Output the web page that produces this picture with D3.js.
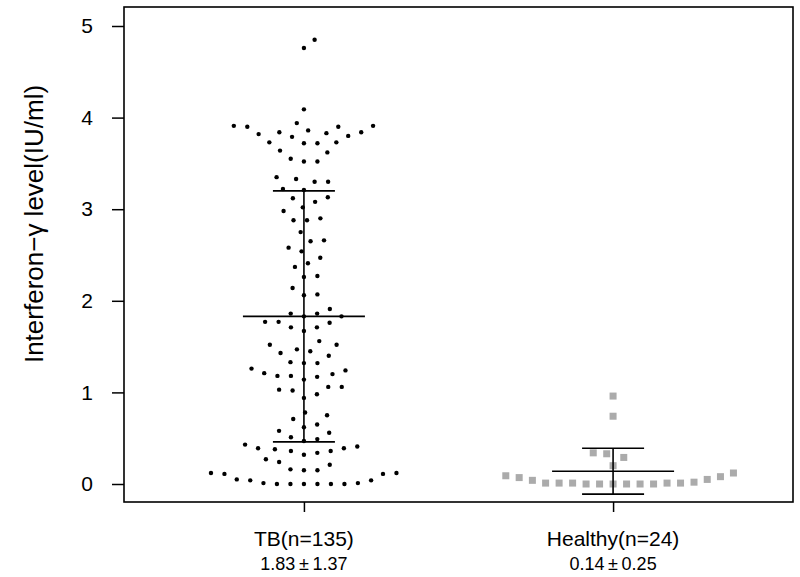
<!DOCTYPE html>
<html>
<head>
<meta charset="utf-8">
<script src="https://cdn.jsdelivr.net/npm/d3@7/dist/d3.min.js"></script>
<style>
  html, body { margin: 0; padding: 0; background: #fff; }
  svg { display: block; }
  text { font-family: "Liberation Sans", Arial, sans-serif; fill: #000; }
</style>
</head>
<body>
<svg id="chart" width="800" height="577"></svg>
<script>
// ---------------- data ----------------
const categories = ["TB(n=135)", "Healthy(n=24)"];
const summaryLabels = ["1.83\u2009\u00B1\u20091.37", "0.14\u2009\u00B1\u20090.25"];
const means = [1.83, 0.14];
const sds = [1.37, 0.25];
const yTicks = [0, 1, 2, 3, 4, 5];
const yTitle = "Interferon\u2212\u03B3 level(IU/ml)";

const tbValues = [
  4.85, 4.76, 4.09,
  3.94, 3.91, 3.91, 3.90, 3.90, 3.86, 3.84, 3.84, 3.83, 3.82, 3.80, 3.79, 3.73, 3.73, 3.72, 3.72,
  3.64, 3.62, 3.55, 3.52, 3.52,
  3.35, 3.33, 3.30, 3.30,
  3.22, 3.21, 3.13, 3.12, 3.08, 3.02, 2.98,
  2.90, 2.88, 2.88, 2.75, 2.66, 2.65, 2.58, 2.54, 2.47, 2.41, 2.37, 2.27, 2.26, 2.14, 2.07, 2.06, 1.91,
  1.86, 1.86, 1.83, 1.83, 1.77, 1.77, 1.76, 1.71, 1.71, 1.67,
  1.56, 1.52, 1.52, 1.47, 1.45, 1.43, 1.40, 1.33, 1.32, 1.32,
  1.26, 1.24, 1.21, 1.20, 1.18, 1.18, 1.17, 1.14,
  1.06, 1.06, 1.03, 1.02, 0.98, 0.94,
  0.78, 0.75, 0.71, 0.65, 0.62, 0.58, 0.56, 0.51, 0.49, 0.47, 0.43,
  0.41, 0.39, 0.39, 0.38, 0.36, 0.36, 0.34, 0.32, 0.27, 0.24, 0.21,
  0.16, 0.15, 0.15, 0.12, 0.12, 0.11, 0.11, 0.05, 0.04, 0.04,
  0.01, 0.01, 0.00, 0.00, 0.00, 0.00, 0.00, 0.00
];
const healthyValues = [
  0.96, 0.74, 0.34, 0.33, 0.29, 0.20,
  0.12, 0.09, 0.08, 0.07, 0.05, 0.04, 0.02,
  0.01, 0.01, 0.01, 0.01, 0.01, 0.00, 0.00, 0.00, 0.00, 0.00, 0.00
];

// ---------------- layout ----------------
const svg = d3.select("#chart");
const plot = { left: 124, right: 793, top: 7, bottom: 502 };

const x = d3.scalePoint().domain(categories).range([plot.left, plot.right]).padding(0.582);
const y = d3.scaleLinear().domain([0, 5]).range([484, 26]);

// deterministic beeswarm: offsets computed from values only
function swarm(values, D) {
  const pts = values.map(v => ({ v, y: y(v), dx: 0 }))
    .sort((a, b) => b.y - a.y);
  const placed = [];
  for (const p of pts) {
    const cands = [0];
    for (const q of placed) {
      const dy = Math.abs(p.y - q.y);
      if (dy < D) {
        const w = Math.sqrt(D * D - dy * dy);
        cands.push(q.dx + w, q.dx - w);
      }
    }
    cands.sort((a, b) => Math.abs(a) - Math.abs(b) || b - a);
    for (const c of cands) {
      let ok = true;
      for (const q of placed) {
        const dd = (c - q.dx) ** 2 + (p.y - q.y) ** 2;
        if (dd < D * D - 1e-6) { ok = false; break; }
      }
      if (ok) { p.dx = c; break; }
    }
    placed.push(p);
  }
  return pts;
}

const D = 13.5;
const tbPts = swarm(tbValues, D);
const hPts = swarm(healthyValues, D);

// frame
svg.append("rect")
  .attr("x", plot.left).attr("y", plot.top)
  .attr("width", plot.right - plot.left).attr("height", plot.bottom - plot.top)
  .attr("fill", "none").attr("stroke", "#000").attr("stroke-width", 1.6);

// y axis
const yAxis = d3.axisLeft(y).tickValues(yTicks).tickSize(12).tickPadding(19).tickFormat(d3.format("d"));
const gy = svg.append("g").attr("transform", `translate(${plot.left},0)`).call(yAxis);
gy.select(".domain").remove();
gy.selectAll(".tick line").attr("stroke", "#000").attr("stroke-width", 1.5);
gy.selectAll(".tick text").attr("font-size", 21).attr("font-family", "Liberation Sans, Arial, sans-serif");

// x axis
const xAxis = d3.axisBottom(x).tickSize(10).tickFormat("");
const gx = svg.append("g").attr("transform", `translate(0,${plot.bottom})`).call(xAxis);
gx.select(".domain").remove();
gx.selectAll(".tick line").attr("stroke", "#000").attr("stroke-width", 1.5);

// category labels
categories.forEach((c, i) => {
  svg.append("text")
    .attr("x", x(c)).attr("y", 546)
    .attr("text-anchor", "middle")
    .attr("font-size", 21)
    .text(c);
  svg.append("text")
    .attr("x", x(c)).attr("y", 570)
    .attr("text-anchor", "middle")
    .attr("font-size", 18)
    .text(summaryLabels[i]);
});

// y title
svg.append("text")
  .attr("transform", `translate(43,${(90 + 358) / 2}) rotate(-90)`)
  .attr("text-anchor", "middle")
  .attr("font-size", 26)
  .text(yTitle);

// TB dots
svg.append("g").selectAll("circle").data(tbPts).join("circle")
  .attr("cx", d => x(categories[0]) + d.dx)
  .attr("cy", d => d.y)
  .attr("r", 2.2)
  .attr("fill", "#000");

// Healthy squares
const sq = 7;
svg.append("g").selectAll("rect").data(hPts).join("rect")
  .attr("x", d => x(categories[1]) + d.dx - sq / 2)
  .attr("y", d => d.y - sq / 2)
  .attr("width", sq).attr("height", sq)
  .attr("fill", "#ababab");

// mean & SD bars
const meanHalf = 61, capHalf = 31;
categories.forEach((c, i) => {
  const cx = x(c);
  const g = svg.append("g").attr("stroke", "#000").attr("stroke-width", 1.6);
  g.append("line").attr("x1", cx).attr("x2", cx)
    .attr("y1", y(means[i] + sds[i])).attr("y2", y(means[i] - sds[i]));
  g.append("line").attr("x1", cx - meanHalf).attr("x2", cx + meanHalf)
    .attr("y1", y(means[i])).attr("y2", y(means[i]));
  [means[i] + sds[i], means[i] - sds[i]].forEach(v => {
    g.append("line").attr("x1", cx - capHalf).attr("x2", cx + capHalf)
      .attr("y1", y(v)).attr("y2", y(v));
  });
});
</script>
</body>
</html>
